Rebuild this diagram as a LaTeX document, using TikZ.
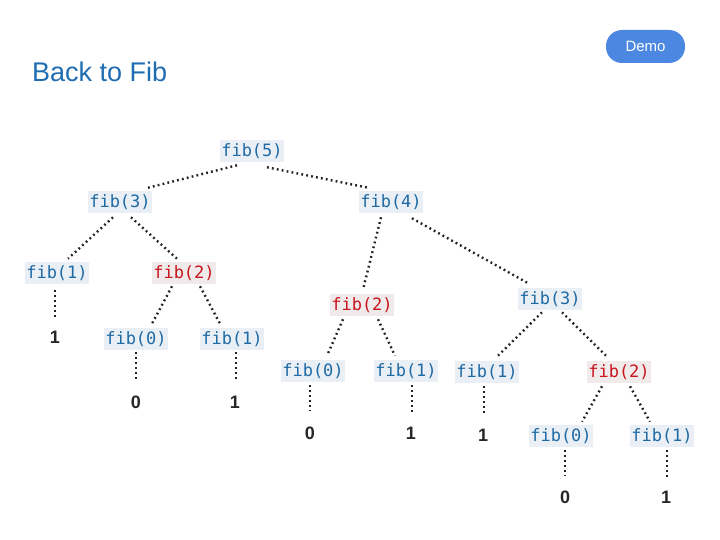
\documentclass[tikz,border=0pt]{standalone}
\usepackage{fontspec}
\setmainfont{Liberation Sans}
\newfontfamily\codefont{DejaVu Sans Mono}
\definecolor{codeblue}{HTML}{1F6AA5}
\definecolor{codered}{HTML}{C8161E}
\definecolor{boxblue}{HTML}{E9EFF4}
\definecolor{boxred}{HTML}{F1EAEA}
\definecolor{titleblue}{HTML}{1F6DB2}
\definecolor{btnblue}{HTML}{4C88E1}
\definecolor{dotcol}{HTML}{222222}
\tikzset{
  call/.style={fill=boxblue,text=codeblue,font=\codefont\fontsize{17}{19}\selectfont,inner xsep=1.5pt,inner ysep=3.5pt},
  redcall/.style={call,fill=boxred,text=codered},
  val/.style={font=\fontsize{18}{20}\selectfont\bfseries,text=black!85,inner sep=0pt},
  dotedge/.style={draw=dotcol,line width=2.4pt,dash pattern=on 1.8pt off 3.2pt}
}
\begin{document}
\begin{tikzpicture}[x=1pt,y=-1pt]
\useasboundingbox (0,0) rectangle (720,540);
\node[anchor=west,text=titleblue,font=\fontsize{27}{30}\selectfont,inner sep=0pt] (title) at (32,72) {Back to Fib};
\node[fill=btnblue,rounded corners=16pt,minimum width=79pt,minimum height=33pt,text=white,font=\fontsize{15}{17}\selectfont,inner sep=0pt] (demo) at (645.5,46.5) {Demo};

\node[call] (f5) at (252,151) {fib(5)};
\node[call] (f3a) at (120,202) {fib(3)};
\node[call] (f4) at (391,202) {fib(4)};
\node[call] (f1a) at (57,273) {fib(1)};
\node[redcall] (f2a) at (184,273) {fib(2)};
\node[redcall] (f2b) at (362,305) {fib(2)};
\node[call] (f3b) at (550,299) {fib(3)};
\node[call] (f0a) at (136,339) {fib(0)};
\node[call] (f1b) at (232,339) {fib(1)};
\node[call] (f0b) at (313,371) {fib(0)};
\node[call] (f1c) at (406,371) {fib(1)};
\node[call] (f1d) at (487,372) {fib(1)};
\node[redcall] (f2c) at (619,372) {fib(2)};
\node[call] (f0c) at (561,436) {fib(0)};
\node[call] (f1e) at (662,436) {fib(1)};

\node[val] (v1) at (55,337) {1};
\node[val] (v2) at (136,402) {0};
\node[val] (v3) at (235,402) {1};
\node[val] (v4) at (310,433) {0};
\node[val] (v5) at (411,433) {1};
\node[val] (v6) at (483,435) {1};
\node[val] (v7) at (565,497) {0};
\node[val] (v8) at (666,497) {1};

\draw[dotedge] ([shift={(-15,3)}]f5.south) -- ([shift={(28,-3)}]f3a.north);
\draw[dotedge] ([shift={(15,5)}]f5.south) -- ([shift={(-23,-3)}]f4.north);
\draw[dotedge] ([shift={(-7,4)}]f3a.south) -- ([shift={(11,-3)}]f1a.north);
\draw[dotedge] ([shift={(11,4)}]f3a.south) -- ([shift={(-7,-3)}]f2a.north);
\draw[dotedge] ([shift={(-10,4)}]f4.south) -- ([shift={(1,-4)}]f2b.north);
\draw[dotedge] ([shift={(21,5)}]f4.south) -- ([shift={(-21,-4)}]f3b.north);
\draw[dotedge] ([shift={(-12,2)}]f2a.south) -- ([shift={(16,-4)}]f0a.north);
\draw[dotedge] ([shift={(16,2)}]f2a.south) -- ([shift={(-12,-4)}]f1b.north);
\draw[dotedge] ([shift={(-19,3)}]f2b.south) -- ([shift={(14,-4)}]f0b.north);
\draw[dotedge] ([shift={(16,3)}]f2b.south) -- ([shift={(-11,-4)}]f1c.north);
\draw[dotedge] ([shift={(-8,2)}]f3b.south) -- ([shift={(10,-4)}]f1d.north);
\draw[dotedge] ([shift={(12,2)}]f3b.south) -- ([shift={(-12,-4)}]f2c.north);
\draw[dotedge] ([shift={(-17,3)}]f2c.south) -- ([shift={(21,-3)}]f0c.north);
\draw[dotedge] ([shift={(11,3)}]f2c.south) -- ([shift={(-12,-3)}]f1e.north);

\draw[dotedge] ([shift={(-2,6)}]f1a.south) -- ([shift={(0,-14)}]v1.north);
\draw[dotedge] ([shift={(0,2)}]f0a.south) -- ([shift={(0,-16)}]v2.north);
\draw[dotedge] ([shift={(4,2)}]f1b.south) -- ([shift={(1,-16)}]v3.north);
\draw[dotedge] ([shift={(-3,3)}]f0b.south) -- ([shift={(0,-15)}]v4.north);
\draw[dotedge] ([shift={(6,3)}]f1c.south) -- ([shift={(1,-15)}]v5.north);
\draw[dotedge] ([shift={(-3,3)}]f1d.south) -- ([shift={(1,-15)}]v6.north);
\draw[dotedge] ([shift={(4,3)}]f0c.south) -- ([shift={(0,-14)}]v7.north);
\draw[dotedge] ([shift={(5,3)}]f1e.south) -- ([shift={(1,-14)}]v8.north);
\end{tikzpicture}
\end{document}
